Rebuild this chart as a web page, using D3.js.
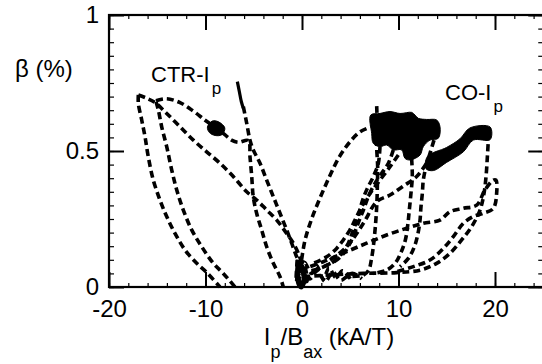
<!DOCTYPE html>
<html>
<head>
<meta charset="utf-8">
<script src="https://cdn.jsdelivr.net/npm/d3@7"></script>
<style>
  body { margin: 0; background: #fff; }
  svg { display: block; }
  text { font-family: "Liberation Sans", Arial, sans-serif; fill: #000; }
</style>
</head>
<body>
<div id="chart"></div>
<script>
// tick values
const xMajor = [-20, -10, 0, 10, 20];
const xMinor = d3.range(-20, 25.1, 2);
const yMajor = [0, 0.5, 1];
const yMinor = d3.range(0, 1.001, 0.05);
const yLabels = ["0", "0.5", "1"];

// counter-Ip traces [Ip/Bax, beta]
const ctrOuter = [[-16.96,0.706],[-16.96,0.675],[-16.61,0.614],[-16.27,0.553],[-15.93,0.479],[-15.41,0.393],[-14.72,0.320],[-14.02,0.259],[-13.16,0.197],[-12.12,0.136],[-10.91,0.087],[-9.95,0.056],[-8.5,0.0]];
const ctrDiag = [[-16.96,0.706],[-16.09,0.694],[-15.23,0.678],[-14.02,0.638],[-12.64,0.589],[-11.26,0.540],[-9.88,0.497],[-8.50,0.455],[-7.12,0.406],[-5.73,0.350],[-4.70,0.320],[-3.66,0.283],[-2.62,0.246],[-1.59,0.197],[-0.90,0.161],[-0.38,0.124],[-0.03,0.087]];
const ctrInner = [[-15.13,0.681],[-14.89,0.651],[-14.54,0.589],[-14.02,0.516],[-13.50,0.430],[-12.98,0.357],[-12.30,0.283],[-11.43,0.210],[-10.39,0.148],[-9.19,0.087],[-8.16,0.050],[-6.94,0.0]];
const ctrUpper = [[-15.13,0.685],[-14.02,0.692],[-12.64,0.678],[-11.2,0.645],[-10.0,0.612],[-8.9,0.585],[-8.0,0.56],[-7.3,0.54],[-6.6,0.532],[-5.56,0.538],[-5.39,0.479],[-5.21,0.406],[-5.05,0.332],[-4.70,0.271],[-4.18,0.210],[-3.66,0.148],[-2.97,0.087],[-2.28,0.038],[-1.94,0.0]];
const ctrSteep = [[-6.08,0.663],[-5.73,0.602],[-5.39,0.540],[-5.05,0.504],[-4.35,0.455],[-3.66,0.393],[-2.97,0.332],[-2.28,0.271],[-1.59,0.210],[-1.07,0.161],[-0.55,0.111],[-0.03,0.075]];
const ctrSteepTop = [[-6.70,0.755],[-6.49,0.718],[-6.29,0.682],[-6.08,0.657]];
const ctrBlob = [[-9.8,0.588],[-9.3,0.61],[-8.7,0.608],[-8.0,0.585],[-8.3,0.56],[-9.0,0.557],[-9.6,0.568]];

// co-Ip traces
const coArc = [[-0.2,0.06],[0.3,0.17],[1.0,0.25],[1.9,0.33],[2.9,0.41],[3.9,0.48],[5.0,0.535],[6.0,0.57],[7.1,0.588]];
const coSpike = [[7.74,0.665],[7.8,0.58],[7.74,0.516],[7.84,0.442],[7.81,0.369],[7.74,0.295],[7.6,0.222],[7.39,0.148],[7.18,0.099],[6.91,0.062],[6.36,0.044],[4.6,0.038]];
const coRise = [[0.14,0.038],[2.9,0.044],[6.36,0.05],[9.81,0.053],[12.23,0.062],[13.95,0.087],[15.34,0.124],[16.54,0.173],[17.58,0.222],[18.45,0.283],[18.86,0.344],[19.07,0.406],[19.21,0.479],[19.31,0.54]];
const coLoop = [[-0.21,0.062],[2.21,0.093],[4.63,0.130],[6.70,0.161],[8.77,0.191],[10.85,0.216],[12.57,0.234],[14.30,0.246],[15.34,0.277],[16.72,0.289],[18.10,0.301],[18.96,0.357],[19.83,0.393],[20.1,0.393],[20.17,0.344],[19.83,0.289],[18.79,0.271],[17.75,0.259],[16.72,0.234],[15.68,0.185],[14.65,0.142],[13.26,0.099],[11.54,0.075],[9.81,0.056]];
const coCross = [[2.9,0.099],[4.63,0.148],[6.36,0.234],[7.74,0.314],[9.12,0.338],[10.5,0.371],[11.88,0.406],[13.0,0.46]];
const coFan1 = [[8.08,0.516],[7.91,0.455],[7.39,0.406],[6.70,0.357],[6.18,0.308],[5.84,0.259],[5.32,0.210],[4.80,0.161],[4.11,0.124],[3.25,0.093],[1.87,0.069],[0.48,0.056]];
const coFan2 = [[9.46,0.504],[8.95,0.455],[8.26,0.418],[7.56,0.381],[6.87,0.332],[6.36,0.283],[5.94,0.246],[5.49,0.203],[4.97,0.161],[4.46,0.130],[3.59,0.099],[2.21,0.075]];
const coFan3 = [[9.98,0.485],[9.12,0.442],[8.08,0.393],[7.05,0.344],[6.18,0.295],[5.49,0.246],[4.97,0.210],[4.28,0.173],[3.59,0.142],[2.56,0.111],[1.17,0.087]];
const coMid = [[11.36,0.473],[11.43,0.406],[11.29,0.344],[11.12,0.283],[10.98,0.234],[10.71,0.173],[10.22,0.124],[9.64,0.087],[8.77,0.062],[7.39,0.050]];
const coRight = [[13.68,0.540],[13.26,0.491],[12.85,0.442],[12.57,0.393],[12.47,0.344],[12.33,0.295],[12.23,0.246],[12.02,0.197],[11.64,0.148],[11.02,0.105],[10.16,0.075]];
const coCluster = [[-0.5,0.1],[-0.6,0.02],[-0.2,0.09],[-0.3,0.0],[0.2,0.06],[-0.4,0.04],[0.5,0.02],[0.3,0.09],[1.0,0.05],[1.5,0.08],[2.2,0.03],[2.8,0.07],[3.5,0.035],[4.2,0.06],[5.0,0.03]];
const coCluster2 = [[0.0,0.08],[0.8,0.03],[1.6,0.06],[2.4,0.02],[3.2,0.055],[4.0,0.025],[5.2,0.05],[6.2,0.03]];
const coClusterSolid = [[-0.35,0.1],[-0.45,0.03],[-0.1,0.0],[0.3,0.04],[-0.2,0.07],[0.1,0.1]];
const coBlob1 = [[7.12,0.632],[8.08,0.638],[9.12,0.645],[10.16,0.638],[11.37,0.642],[11.71,0.632],[12.06,0.620],[12.92,0.616],[13.95,0.614],[14.30,0.589],[14.13,0.547],[13.26,0.540],[12.57,0.516],[12.23,0.485],[11.19,0.467],[10.67,0.473],[10.33,0.504],[9.46,0.504],[8.77,0.522],[8.08,0.516],[7.39,0.528],[7.22,0.565]];
const coBlob2 = [[13.0,0.48],[14.98,0.513],[16.37,0.545],[17.41,0.585],[19.5,0.588],[19.5,0.542],[17.75,0.54],[16.72,0.497],[14.98,0.458],[13.61,0.428],[12.85,0.435]];

const dashed = [ctrOuter, ctrDiag, ctrInner, ctrUpper, ctrSteep,
  coArc, coSpike, coRise, coLoop, coCross, coFan1, coFan2, coFan3, coMid, coRight, coCluster, coCluster2];
const blobs = [ctrBlob, coBlob1, coBlob2];

const W = 542, H = 364;
const svg = d3.select("#chart").append("svg").attr("width", W).attr("height", H);

const x = d3.scaleLinear().domain([-20, 25]).range([109, 543.25]);
const y = d3.scaleLinear().domain([0, 1]).range([287, 15]);

// minor ticks
svg.append("g").attr("class", "minor").attr("transform", `translate(0,${y(0)})`)
  .call(d3.axisBottom(x).tickValues(xMinor).tickSize(-4).tickFormat(""));
svg.append("g").attr("class", "minor").attr("transform", `translate(0,${y(1)})`)
  .call(d3.axisTop(x).tickValues(xMinor).tickSize(-4).tickFormat(""));
svg.append("g").attr("class", "minor").attr("transform", `translate(${x(-20)},0)`)
  .call(d3.axisLeft(y).tickValues(yMinor).tickSize(-5).tickFormat(""));
svg.append("g").attr("class", "minor").attr("transform", `translate(${x(25)},0)`)
  .call(d3.axisRight(y).tickValues(yMinor).tickSize(-5).tickFormat(""));

// major ticks + labels
svg.append("g").attr("class", "major ax").attr("transform", `translate(0,${y(0)})`)
  .call(d3.axisBottom(x).tickValues(xMajor).tickSize(-15).tickPadding(13).tickFormat(d => String(d)));
svg.append("g").attr("class", "major").attr("transform", `translate(0,${y(1)})`)
  .call(d3.axisTop(x).tickValues(xMajor).tickSize(-15).tickFormat(""));
svg.append("g").attr("class", "major ax").attr("transform", `translate(${x(-20)},0)`)
  .call(d3.axisLeft(y).tickValues(yMajor).tickSize(-15).tickPadding(10).tickFormat((d, i) => yLabels[i]));
svg.append("g").attr("class", "major").attr("transform", `translate(${x(25)},0)`)
  .call(d3.axisRight(y).tickValues(yMajor).tickSize(-15).tickFormat(""));

svg.selectAll(".domain").remove();
svg.selectAll(".minor .tick line").attr("stroke", "#000").attr("stroke-width", 1.2);
svg.selectAll(".major .tick line").attr("stroke", "#000").attr("stroke-width", 2);
svg.selectAll(".ax text").attr("font-size", 24).attr("font-family", "Liberation Sans, Arial, sans-serif").attr("fill", "#000");

// frame
svg.append("rect")
  .attr("x", x(-20)).attr("y", y(1))
  .attr("width", x(25) - x(-20)).attr("height", y(0) - y(1))
  .attr("fill", "none").attr("stroke", "#000").attr("stroke-width", 2.2);

// traces
const line = d3.line().x(d => x(d[0])).y(d => y(d[1])).curve(d3.curveCatmullRom.alpha(0.5));
dashed.forEach(c => {
  svg.append("path").datum(c).attr("d", line)
    .attr("fill", "none").attr("stroke", "#000")
    .attr("stroke-width", 3.6).attr("stroke-dasharray", "7,4");
});
svg.append("path").datum(ctrSteepTop).attr("d", line)
  .attr("fill", "none").attr("stroke", "#000").attr("stroke-width", 3.2);
svg.append("path").datum(coClusterSolid).attr("d", line)
  .attr("fill", "none").attr("stroke", "#000").attr("stroke-width", 5);

const blobLine = d3.line().x(d => x(d[0])).y(d => y(d[1])).curve(d3.curveCatmullRomClosed);
blobs.forEach(b => {
  svg.append("path").datum(b).attr("d", blobLine).attr("fill", "#000").attr("stroke", "#000").attr("stroke-width", 1);
});

// labels
svg.append("text").attr("x", 15).attr("y", 77).attr("font-size", 24).text("β (%)");

const ctr = svg.append("text").attr("x", 151).attr("y", 82).attr("font-size", 22);
ctr.append("tspan").text("CTR-I");
ctr.append("tspan").attr("dy", 12).attr("dx", 2).attr("font-size", 17).text("p");

const co = svg.append("text").attr("x", 445).attr("y", 100).attr("font-size", 22);
co.append("tspan").text("CO-I");
co.append("tspan").attr("dy", 12).attr("dx", 2).attr("font-size", 17).text("p");

const xt = svg.append("text").attr("x", 329).attr("y", 345).attr("font-size", 24).attr("text-anchor", "middle");
xt.append("tspan").text("I");
xt.append("tspan").attr("dy", 13).attr("font-size", 18).text("p");
xt.append("tspan").attr("dy", -13).text("/B");
xt.append("tspan").attr("dy", 13).attr("font-size", 18).text("ax");
xt.append("tspan").attr("dy", -13).text(" (kA/T)");
</script>
</body>
</html>
